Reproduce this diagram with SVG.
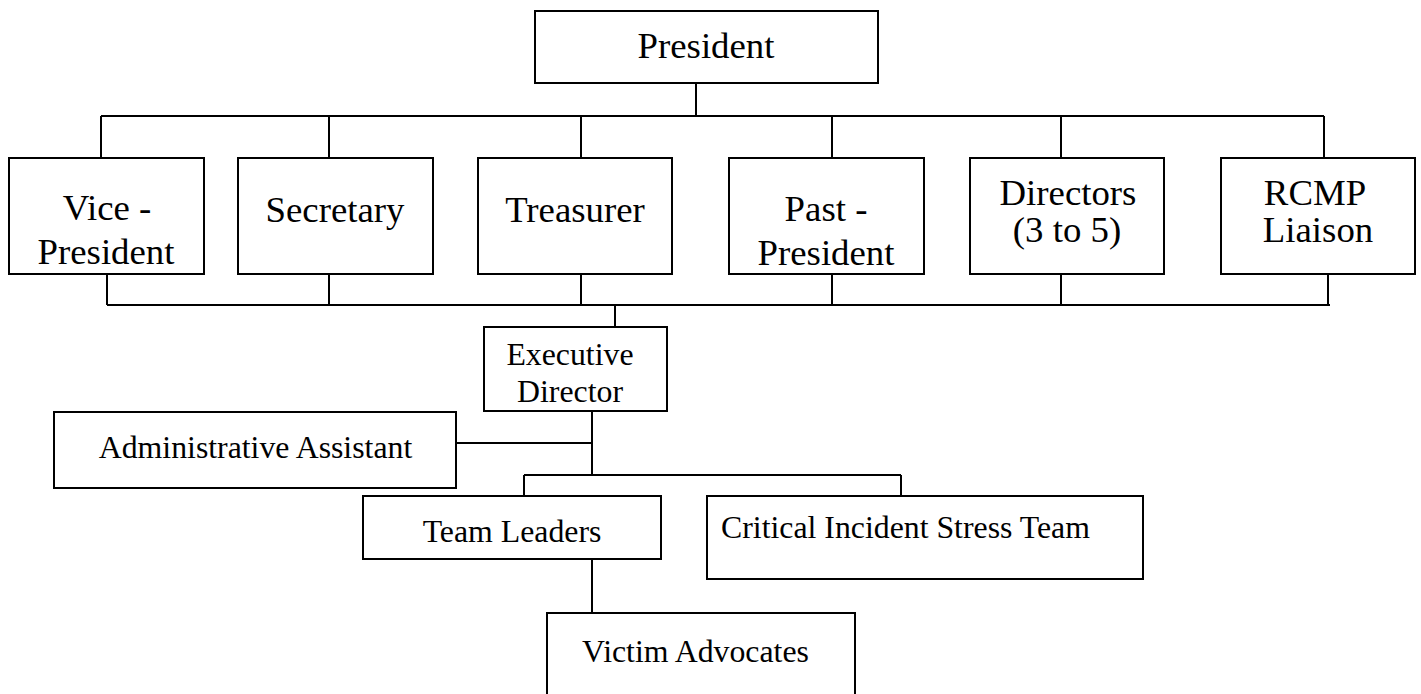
<svg xmlns="http://www.w3.org/2000/svg" width="1421" height="694" viewBox="0 0 1421 694">
<style>
rect{fill:#fff;stroke:#000;stroke-width:2}
.c path{fill:none;stroke:#000;stroke-width:2}
text{font-family:"Liberation Serif","Times New Roman",serif;fill:#000;text-anchor:middle}
.b{font-size:36.8px}
.s{font-size:31.8px}
</style>
<rect x="0" y="0" width="1421" height="694" style="stroke:none"/>
<g class="c" id="connectors">
<path d="M696 83V116M101 116H1324M101 116V158M329 116V158M581 116V158M832 116V158M1061 116V158M1324 116V158"/>
<path d="M107 274V305M329 274V305M581 274V305M832 274V305M1061 274V305M1328 274V305M107 305H1330M615 305V327"/>
<path d="M592 411V475M456 443H592M524 475H901M524 475V496M901 475V496M592 559V613"/>
</g>
<g id="president"><rect x="535" y="11" width="343" height="72"/><text class="b" x="706" y="58">President</text></g>
<g id="vice-president"><rect x="9" y="158" width="195" height="116"/><text class="b" x="107" y="220">Vice -</text><text class="b" x="106" y="264">President</text></g>
<g id="secretary"><rect x="238" y="158" width="195" height="116"/><text class="b" x="335" y="222">Secretary</text></g>
<g id="treasurer"><rect x="478" y="158" width="194" height="116"/><text class="b" x="575" y="222">Treasurer</text></g>
<g id="past-president"><rect x="729" y="158" width="195" height="116"/><text class="b" x="826" y="221">Past -</text><text class="b" x="826" y="265">President</text></g>
<g id="directors"><rect x="970" y="158" width="194" height="116"/><text class="b" x="1068" y="205">Directors</text><text class="b" x="1067" y="242">(3 to 5)</text></g>
<g id="rcmp-liaison"><rect x="1221" y="158" width="194" height="116"/><text class="b" x="1315" y="205">RCMP</text><text class="b" x="1318" y="242">Liaison</text></g>
<g id="executive-director"><rect x="484" y="327" width="183" height="84"/><text class="s" x="570" y="365">Executive</text><text class="s" x="570" y="402">Director</text></g>
<g id="administrative-assistant"><rect x="54" y="412" width="402" height="76"/><text class="s" x="255.5" y="458">Administrative Assistant</text></g>
<g id="team-leaders"><rect x="363" y="496" width="298" height="63"/><text class="s" x="512" y="542">Team Leaders</text></g>
<g id="critical-incident-stress-team"><rect x="707" y="496" width="436" height="83"/><text class="s" x="721" y="538" style="text-anchor:start">Critical Incident Stress Team</text></g>
<g id="victim-advocates"><rect x="547" y="613" width="308" height="90"/><text class="s" x="695.5" y="662">Victim Advocates</text></g>
</svg>
